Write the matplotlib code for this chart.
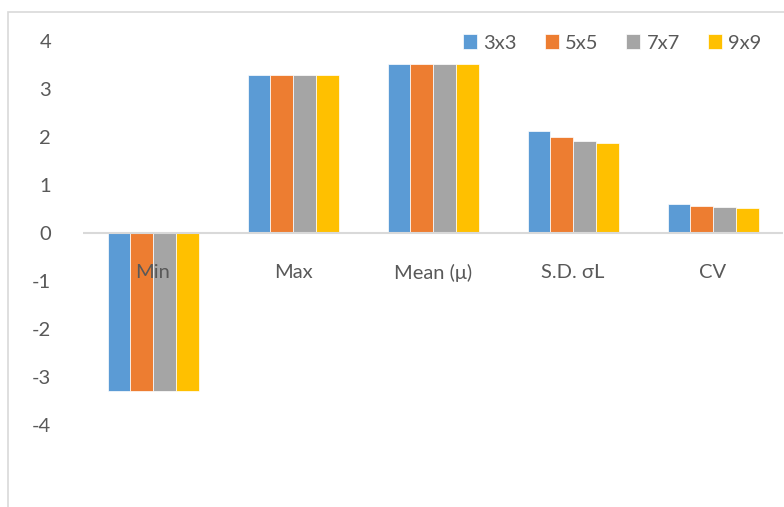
import numpy as np
import matplotlib.pyplot as plt
from matplotlib.patches import Rectangle

# %%
# Data
# %%
categories = ["Min", "Max", "Mean (\u03bc)", "S.D. \u03c3L", "CV"]
series_names = ["3x3", "5x5", "7x7", "9x9"]
v_3x3 = [-3.3, 3.3, 3.52, 2.13, 0.60]
v_5x5 = [-3.3, 3.3, 3.52, 2.00, 0.56]
v_7x7 = [-3.3, 3.3, 3.52, 1.92, 0.54]
v_9x9 = [-3.3, 3.3, 3.52, 1.87, 0.52]
series_values = [v_3x3, v_5x5, v_7x7, v_9x9]
colors = ["#5B9BD5", "#ED7D31", "#A5A5A5", "#FFC000"]
y_ticks = [-4, -3, -2, -1, 0, 1, 2, 3, 4]

# %%
# Figure
# %%
plt.rcParams["font.family"] = ["Lato", "DejaVu Sans"]
text_col = "#595959"
fs = 14.5

W, H = 784, 507
fig = plt.figure(figsize=(W / 100, H / 100), dpi=100)

# chart-area border (cut off on right and bottom)
fig.patches.append(Rectangle((8 / W, -0.1), 1.2, 1.1 - 12 / H,
                             transform=fig.transFigure, fill=False,
                             edgecolor="#D9D9D9", linewidth=1.2))

ax = fig.add_axes([83 / W, 1 - 497 / H, 700 / W, (497 - 41) / H])
ax.set_xlim(-0.5, 4.5)
ax.set_ylim(-5.5, 4.0)

x = np.arange(len(categories))
n = len(series_names)
bar_w = 0.65 / n
for i, (name, vals) in enumerate(zip(series_names, series_values)):
    ax.bar(x + (i - (n - 1) / 2) * bar_w, vals, width=bar_w, color=colors[i],
           edgecolor="white", linewidth=0.5, label=name, zorder=2)

ax.axhline(0, color="#D9D9D9", linewidth=1.5, zorder=3)

for xi, cat in zip(x, categories):
    ax.text(xi, -0.83, cat, ha="center", va="center", fontsize=fs,
            color=text_col, zorder=4)

ax.set_yticks(y_ticks)
ax.set_yticklabels([str(t) for t in y_ticks], fontsize=fs, color=text_col)
ax.tick_params(axis="y", length=0, pad=23)
ax.set_xticks([])
for s in ax.spines.values():
    s.set_visible(False)

leg = fig.legend(loc="center", bbox_to_anchor=(612 / W, 1 - 43 / H), ncol=4,
                 frameon=False, fontsize=fs, handlelength=0.7,
                 handleheight=0.7, handletextpad=0.3, columnspacing=1.4,
                 borderaxespad=0)
for t in leg.get_texts():
    t.set_color(text_col)

fig.savefig("out.png", dpi=100)
